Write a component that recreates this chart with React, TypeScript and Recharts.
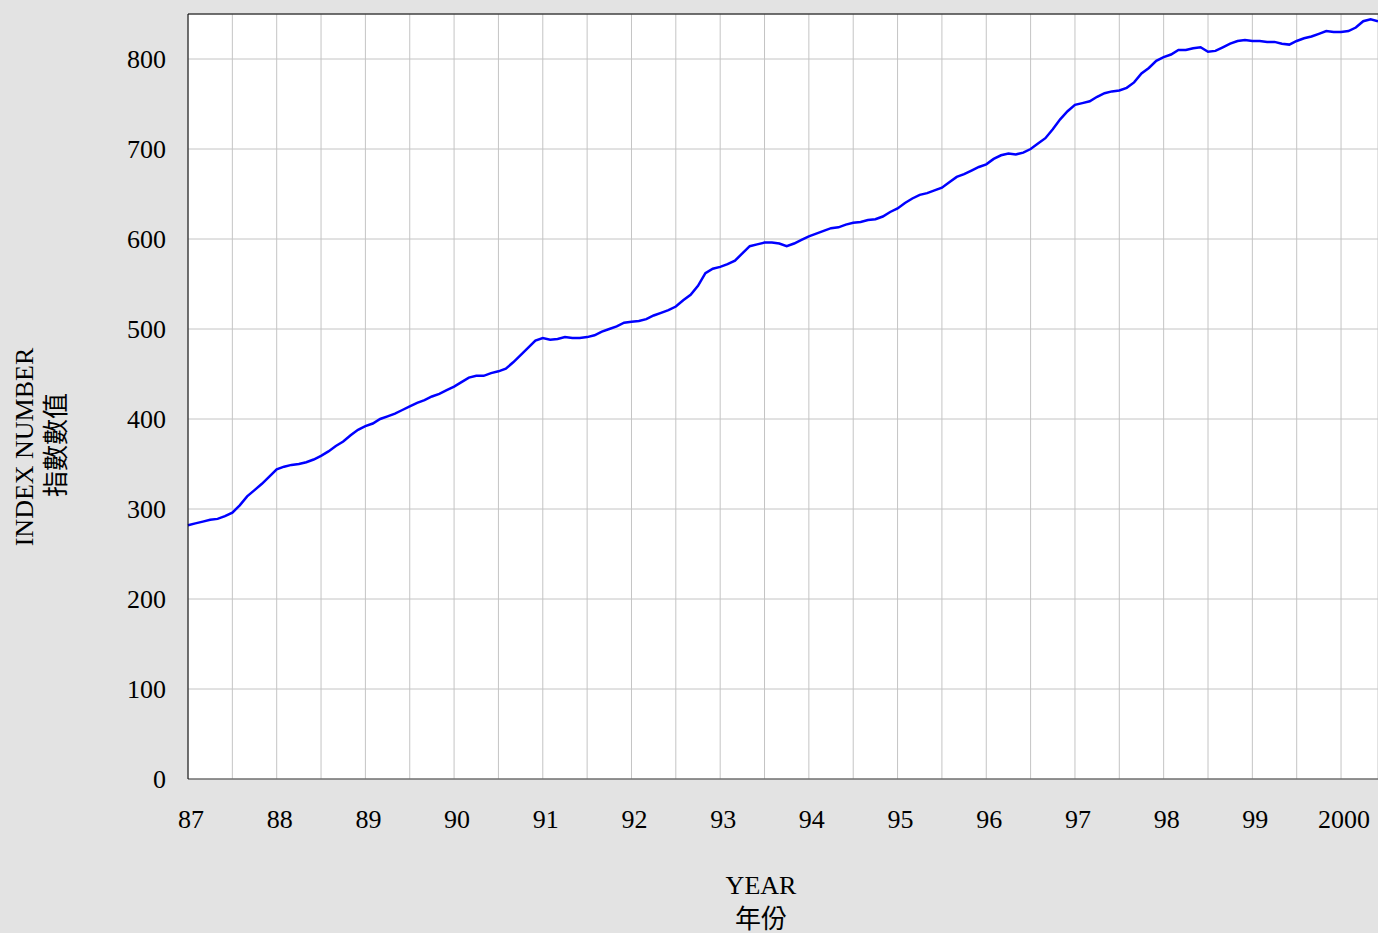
import {
  LineChart,
  Line,
  XAxis,
  YAxis,
  CartesianGrid,
  ReferenceLine,
} from "recharts";

// monthly index values, Jan 1987 onwards
const y1987 = [282, 284, 286, 288, 289, 292, 296, 304, 314, 321, 328, 336];
const y1988 = [344, 347, 349, 350, 352, 355, 359, 364, 370, 375, 382, 388];
const y1989 = [392, 395, 400, 403, 406, 410, 414, 418, 421, 425, 428, 432];
const y1990 = [436, 441, 446, 448, 448, 451, 453, 456, 463, 471, 479, 487];
const y1991 = [490, 488, 489, 491, 490, 490, 491, 493, 497, 500, 503, 507];
const y1992 = [508, 509, 511, 515, 518, 521, 525, 532, 538, 548, 562, 567];
const y1993 = [569, 572, 576, 584, 592, 594, 596, 596, 595, 592, 595, 599];
const y1994 = [603, 606, 609, 612, 613, 616, 618, 619, 621, 622, 625, 630];
const y1995 = [634, 640, 645, 649, 651, 654, 657, 663, 669, 672, 676, 680];
const y1996 = [683, 689, 693, 695, 694, 696, 700, 706, 712, 722, 733, 742];
const y1997 = [749, 751, 753, 758, 762, 764, 765, 768, 774, 784, 790, 798];
const y1998 = [802, 805, 810, 810, 812, 813, 808, 809, 813, 817, 820, 821];
const y1999 = [820, 820, 819, 819, 817, 816, 820, 823, 825, 828, 831, 830];
const y2000 = [830, 831, 835, 842, 844, 842];

const yearLabels = ["87", "88", "89", "90", "91", "92", "93", "94", "95", "96", "97", "98", "99", "2000"];
const yTicks = [0, 100, 200, 300, 400, 500, 600, 700, 800];

const allValues = [
  ...y1987, ...y1988, ...y1989, ...y1990, ...y1991, ...y1992, ...y1993,
  ...y1994, ...y1995, ...y1996, ...y1997, ...y1998, ...y1999, ...y2000,
];

const data = allValues.map((v, i) => ({ month: i, value: v }));
const lastMonth = data.length - 1;

// grid every half year, labels only on January
const xTicks = yearLabels.flatMap((_, i) => (i < yearLabels.length - 1 ? [i * 12, i * 12 + 6] : [i * 12]));

const FONT = '"Liberation Serif", "Times New Roman", "Noto Sans CJK TC", serif';

function renderYTitle() {
  return (
    <g fontFamily={FONT} fontSize={26} fill="#000">
      <text x={24} y={447} transform="rotate(-90 24 447)" textAnchor="middle" dominantBaseline="central">
        INDEX NUMBER
      </text>
      <text x={56} y={445} transform="rotate(-90 56 445)" textAnchor="middle" dominantBaseline="central">
        指數數值
      </text>
    </g>
  );
}

function renderXTitle() {
  return (
    <g fontFamily={FONT} fontSize={26} fill="#000">
      <text x={761} y={885} textAnchor="middle" dominantBaseline="central">
        YEAR
      </text>
      <text x={761} y={919} textAnchor="middle" dominantBaseline="central">
        年份
      </text>
    </g>
  );
}

export default function App() {
  return (
    <div style={{ position: "fixed", left: 0, top: 0, width: 1378, height: 933, background: "#e3e3e3" }}>
      <LineChart width={1378} height={933} data={data} margin={{ top: 14, right: 0, left: 0, bottom: 0 }}>
        <CartesianGrid stroke="#c4c4c4" fill="#fff" />
        <XAxis
          dataKey="month"
          type="number"
          domain={[0, lastMonth]}
          ticks={xTicks}
          interval={0}
          height={154}
          tickLine={false}
          tickSize={6}
          tickMargin={25}
          axisLine={{ stroke: "#444" }}
          tick={{ fontSize: 26, fontFamily: FONT, fill: "#000", dx: 3 }}
          tickFormatter={(m: number) => (m % 12 === 0 ? yearLabels[m / 12] : "")}
          label={renderXTitle}
        />
        <YAxis
          type="number"
          domain={[0, 850]}
          ticks={yTicks}
          interval={0}
          width={188}
          tickLine={false}
          tickSize={6}
          tickMargin={16}
          axisLine={{ stroke: "#000" }}
          tick={{ fontSize: 26, fontFamily: FONT, fill: "#000" }}
          label={renderYTitle}
        />
        <ReferenceLine y={850} stroke="#000" />
        <Line
          type="linear"
          dataKey="value"
          stroke="#0000ff"
          strokeWidth={2.5}
          dot={false}
          isAnimationActive={false}
        />
      </LineChart>
    </div>
  );
}
